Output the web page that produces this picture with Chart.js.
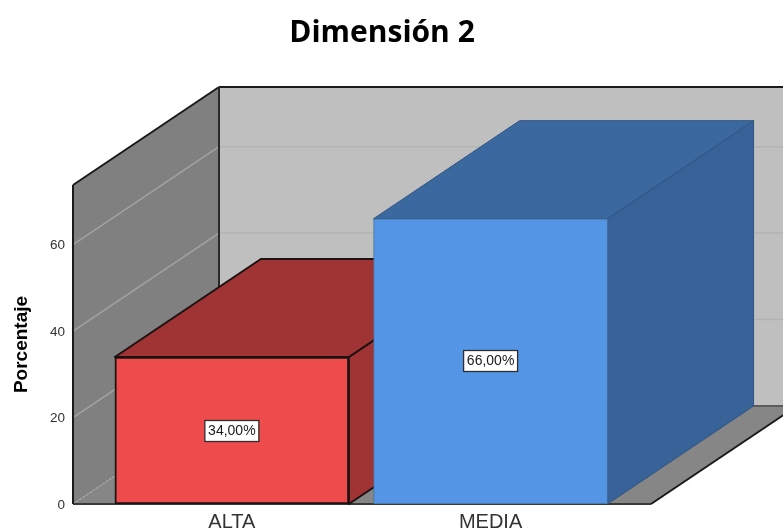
<!DOCTYPE html>
<html>
<head>
<meta charset="utf-8">
<title>Dimensión 2</title>
<script src="https://cdn.jsdelivr.net/npm/chart.js@4/dist/chart.umd.min.js"></script>
<style>
    html, body { margin: 0; padding: 0; background: #fff; }
    canvas { display: block; }
</style>
</head>
<body>
<canvas id="chart" width="783" height="531"></canvas>
<script>
const titleText = 'Dimensión 2';
const axisTitle = 'Porcentaje';
const categories = ['ALTA', 'MEDIA'];
const percentages = [34, 66];
const yTicks = [0, 20, 40, 60];

const frontColors = ['#ee4b4d', '#5595e5'];
const frontBorders = ['#1c1212', '#44729f'];
const borderWidths = [2, 1];
const topColors = ['#a03334', '#3a689f'];
const sideColors = ['#a03334', '#386398'];
const edgeColors = ['#1c1212', '#2f5480'];

// how far the box is pushed back, in pixels
const depthX = 146;
const depthY = -98;

function polygon(ctx, points, fill, stroke, lineWidth) {
    ctx.beginPath();
    points.forEach((p, i) => i ? ctx.lineTo(p[0], p[1]) : ctx.moveTo(p[0], p[1]));
    ctx.closePath();
    ctx.fillStyle = fill;
    ctx.fill();
    if (stroke) {
        ctx.strokeStyle = stroke;
        ctx.lineWidth = lineWidth;
        ctx.lineJoin = 'round';
        ctx.stroke();
    }
}

function line(ctx, x1, y1, x2, y2, color, width, dash) {
    ctx.beginPath();
    ctx.setLineDash(dash || []);
    ctx.moveTo(x1, y1);
    ctx.lineTo(x2, y2);
    ctx.strokeStyle = color;
    ctx.lineWidth = width;
    ctx.stroke();
    ctx.setLineDash([]);
}

// walls, floor and the sides of the bars
const box3d = {
    id: 'box3d',
    beforeDatasetsDraw(chart) {
        const { ctx, chartArea: area, scales } = chart;
        const { left, right, top, bottom } = area;
        const backX = left + depthX;
        const backTop = top + depthY;
        const backBottom = bottom + depthY;

        ctx.save();
        polygon(ctx, [[backX, backTop], [right + depthX, backTop], [right + depthX, backBottom], [backX, backBottom]], '#bfbfbf');
        polygon(ctx, [[left, top], [backX, backTop], [backX, backBottom], [left, bottom]], '#808080');
        polygon(ctx, [[left, bottom], [backX, backBottom], [right + depthX, backBottom], [right, bottom]], '#868686');

        yTicks.forEach(v => {
            const y = scales.y.getPixelForValue(v);
            if (v === 0) {
                line(ctx, left, y, backX, y + depthY, '#a8a8a8', 1.2, [2, 2]);
                line(ctx, backX, y + depthY, right + depthX, y + depthY, '#5c5c5c', 2);
            } else {
                line(ctx, left, y, backX, y + depthY, '#a2a2a2', 1.5);
                line(ctx, backX, y + depthY, right + depthX, y + depthY, '#b3b3b3', 1.5);
            }
        });

        line(ctx, backX, backTop, right + depthX, backTop, '#1a1a1a', 2);
        line(ctx, left, top, backX, backTop, '#1a1a1a', 2);
        line(ctx, backX, backTop, backX, backBottom, '#2a2a2a', 2);
        line(ctx, left, top, left, bottom, '#1a1a1a', 2);
        line(ctx, left, bottom, right, bottom, '#3a3a3a', 2);
        line(ctx, right, bottom, right + depthX, backBottom, '#1a1a1a', 2);

        chart.getDatasetMeta(0).data.forEach((bar, i) => {
            const { x, y, base, width } = bar.getProps(['x', 'y', 'base', 'width']);
            const l = x - width / 2;
            const r = x + width / 2;
            polygon(ctx, [[r, y], [r + depthX, y + depthY], [r + depthX, base + depthY], [r, base]], sideColors[i], edgeColors[i], borderWidths[i]);
            polygon(ctx, [[l, y], [l + depthX, y + depthY], [r + depthX, y + depthY], [r, y]], topColors[i], edgeColors[i], borderWidths[i]);
        });
        ctx.restore();
    },
    afterDatasetsDraw(chart) {
        const { ctx } = chart;
        ctx.save();
        ctx.textAlign = 'center';
        ctx.textBaseline = 'middle';
        ctx.font = '14px "Liberation Sans"';
        chart.getDatasetMeta(0).data.forEach((bar, i) => {
            const { x, y, base } = bar.getProps(['x', 'y', 'base']);
            const cy = Math.round((y + base) / 2);
            const text = percentages[i].toFixed(2).replace('.', ',') + '%';
            const w = Math.ceil(ctx.measureText(text).width) + 6;
            ctx.fillStyle = '#fff';
            ctx.fillRect(x - w / 2, cy - 10.5, w, 21);
            ctx.strokeStyle = '#2e2e2e';
            ctx.lineWidth = 1.3;
            ctx.strokeRect(x - w / 2, cy - 10.5, w, 21);
            ctx.fillStyle = '#1a1a1a';
            ctx.fillText(text, x, cy + 0.5);
        });

        ctx.font = 'bold 30px "Open Sans"';
        ctx.fillStyle = '#000';
        ctx.textBaseline = 'alphabetic';
        ctx.fillText(titleText, 382, 42);
        ctx.restore();
    }
};

new Chart(document.getElementById('chart'), {
    type: 'bar',
    plugins: [box3d],
    data: {
        datasets: [{
            data: percentages.map((v, i) => ({ x: i, y: v })),
            backgroundColor: frontColors,
            borderColor: frontBorders,
            borderWidth: borderWidths,
            borderSkipped: false,
            barThickness: 234
        }]
    },
    options: {
        responsive: false,
        animation: false,
        layout: { padding: { top: 185, right: 132 } },
        plugins: {
            legend: { display: false },
            tooltip: { enabled: false }
        },
        scales: {
            x: {
                type: 'linear',
                offset: false,
                min: -0.614,
                max: 1.62,
                grid: { display: false, drawTicks: false },
                border: { display: false },
                afterBuildTicks: scale => { scale.ticks = categories.map((c, i) => ({ value: i })); },
                afterFit: scale => { scale.height = 27; },
                ticks: {
                    callback: value => categories[value],
                    color: '#333',
                    padding: 6,
                    maxRotation: 0,
                    font: { family: '"Liberation Sans"', size: 20 }
                }
            },
            y: {
                min: 0,
                max: 73.8,
                grid: { display: false, drawTicks: false },
                border: { display: false },
                afterBuildTicks: scale => { scale.ticks = yTicks.map(v => ({ value: v })); },
                afterFit: scale => { scale.width = 73; },
                title: {
                    display: true,
                    text: axisTitle,
                    color: '#000',
                    padding: { top: 10, bottom: 0 },
                    font: { family: '"Liberation Sans"', size: 19, weight: 'bold' }
                },
                ticks: {
                    color: '#333',
                    padding: 8,
                    labelOffset: 1,
                    font: { family: '"Liberation Sans"', size: 13.5 }
                }
            }
        }
    }
});
</script>
</body>
</html>
